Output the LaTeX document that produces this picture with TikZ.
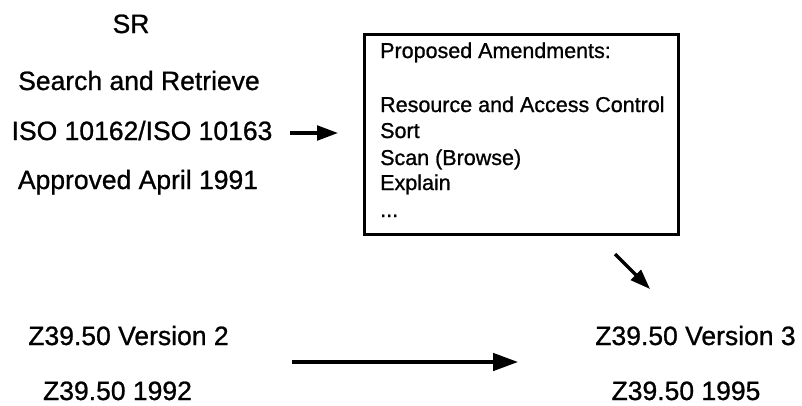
\documentclass[tikz,border=0pt]{standalone}
\usepackage{fontspec}
\setmainfont{Liberation Sans}[FakeBold=0.9]
\usetikzlibrary{arrows.meta}
\begin{document}
\begin{tikzpicture}[x=1pt,y=-1pt,
  big/.style={inner sep=0pt,anchor=base,font=\fontsize{26.5}{30}\selectfont},
  small/.style={inner sep=0pt,anchor=base west,font=\fontsize{21.5}{25}\selectfont},
  arr/.style={line width=3.2pt,-{Triangle[length=#1,width=0.7*#1]}},
  arr/.default=21pt,
  panel/.style={draw,line width=2.7pt,inner sep=0pt,anchor=north west}]
\useasboundingbox (0,0) rectangle (802,405);
% left column
\node[big] (sr) at (131,33) {SR};
\node[big] (sar) at (139,90) {Search and Retrieve};
\node[big] (iso) at (142,140) {ISO 10162/ISO 10163};
\node[big] (appr) at (138,189) {Approved April 1991};
% box
\node[panel,minimum width=314pt,minimum height=200pt] (box) at (363,33) {};
\node[small] (pa) at (380,58) {Proposed Amendments:};
\node[small] (rac) at (380,112) {Resource and Access Control};
\node[small] (sort) at (380,138) {Sort};
\node[small] (scan) at (380,165) {Scan (Browse)};
\node[small] (expl) at (380,190) {Explain};
\node[small] (dots) at (380,217) {...};
% bottom
\node[big] (v2) at (128.5,345) {Z39.50 Version 2};
\node[big] (y92) at (117.5,400) {Z39.50 1992};
\node[big] (v3) at (695.5,345) {Z39.50 Version 3};
\node[big] (y95) at (686,400) {Z39.50 1995};
% connectors
\coordinate (isoA) at (290,133);
\coordinate (isoB) at (338,133);
\draw[arr=21pt] (isoA) -- (isoB);
\coordinate (dA) at (615,254);
\coordinate (dB) at (650,289);
\draw[arr=20pt] (dA) -- (dB);
\coordinate (hA) at (292,362);
\coordinate (hB) at (518,362);
\draw[arr=25pt] (hA) -- (hB);
\end{tikzpicture}
\end{document}
